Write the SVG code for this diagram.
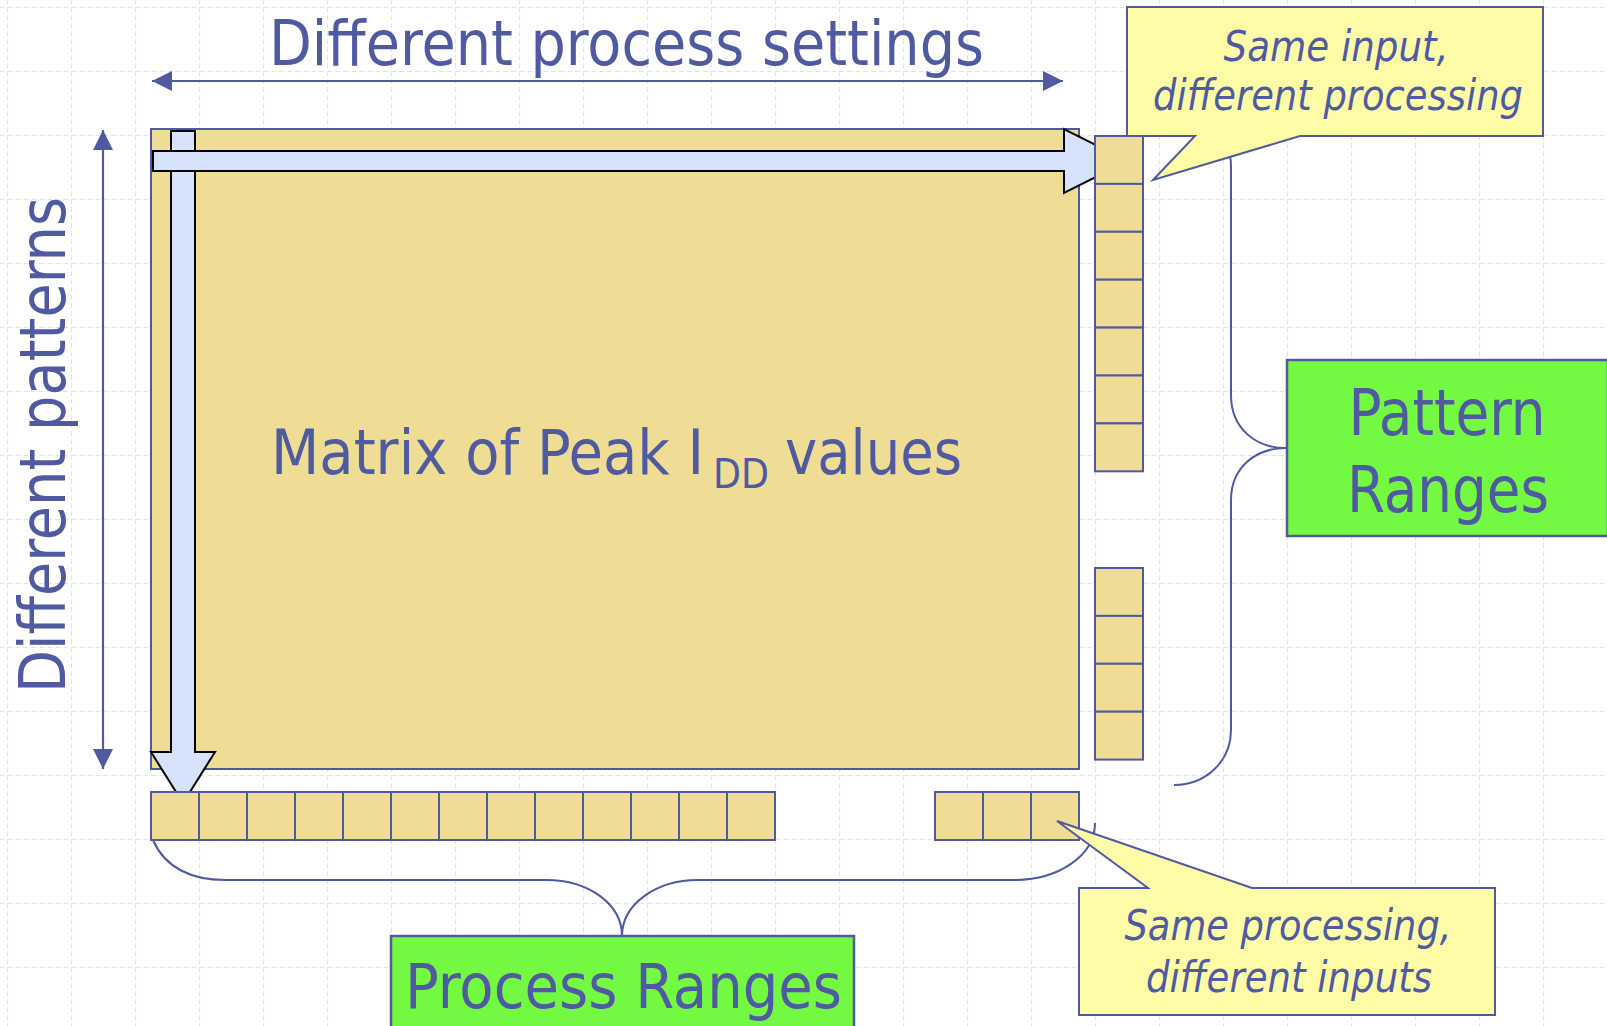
<svg xmlns="http://www.w3.org/2000/svg" width="1607" height="1026" viewBox="0 0 1607 1026">
<defs>
<style>
.txt{fill:#4F5AA0;font-family:"DejaVu Sans Condensed","DejaVu Sans","Liberation Sans",sans-serif;font-stretch:condensed}
.it{font-style:italic}
.cell{fill:#EFDD95;stroke:#4F5AA0;stroke-width:2}
.blk{fill:#D7E3FB;stroke:#000;stroke-width:2;stroke-linejoin:miter}
.brace{fill:none;stroke:#4F5AA0;stroke-width:2}
.callout{fill:#FFFCA8;stroke:#4F5AA0;stroke-width:2}
.green{fill:#74F942;stroke:#4F5AA0;stroke-width:2.5}
.thin{stroke:#4F5AA0;stroke-width:2.2;fill:none}
.grid{fill:none;stroke:#DAE3FA;stroke-width:1.2;stroke-dasharray:5 3}
</style>
<pattern id="gridpat" patternUnits="userSpaceOnUse" x="7" y="7" width="64" height="64">
<path class="grid" d="M0 0.5 H64 M0.5 0 V64"/>
</pattern>
<marker id="ah" viewBox="0 0 20 20" refX="20" refY="10" markerWidth="20" markerHeight="20" markerUnits="userSpaceOnUse" orient="auto-start-reverse">
<path d="M0,0 L20,10 L0,20 Z" fill="#4F5AA0"/>
</marker>
</defs>
<rect x="0" y="0" width="1607" height="1026" fill="#FFFFFF"/>
<rect x="0" y="0" width="1607" height="1026" fill="url(#gridpat)"/>

<g id="matrix">
<rect class="cell" x="151" y="129" width="928" height="640"/>
<text class="txt" font-size="63"><tspan x="271" y="474" textLength="433" lengthAdjust="spacingAndGlyphs">Matrix of Peak I</tspan><tspan x="713" y="488" font-size="40" textLength="56" lengthAdjust="spacingAndGlyphs">DD</tspan><tspan x="785" y="474" textLength="177" lengthAdjust="spacingAndGlyphs">values</tspan></text>
</g>

<g id="connectors">
<path id="arrow-down" class="blk" d="M171 131 H195 V752 H215 L183 803 L151 752 H171 Z"/>
<path id="arrow-right" class="blk" d="M153 151 H1064 V129 L1128 161 L1064 193 V171 H153 Z"/>
<line class="thin" x1="152" y1="81" x2="1063" y2="81" marker-start="url(#ah)" marker-end="url(#ah)"/>
<line class="thin" x1="103" y1="130" x2="103" y2="769" marker-start="url(#ah)" marker-end="url(#ah)"/>
<path id="brace-right" class="brace" d="M1174 111 C1205 111 1231 135 1231 166 L1231 395 C1231 428 1255 448 1286 448 C1255 448 1231 468 1231 500 L1231 730 C1231 762 1205 785 1174 785"/>
<path id="brace-bottom" class="brace" d="M153 840 C165 868 192 880 225 880 L546 880 C590 880 622 905 622 936 C622 905 655 880 698 880 L1014 880 C1058 880 1095 856 1095 823"/>
</g>

<g id="pattern-cells">
<rect class="cell" x="1095" y="136" width="48" height="47.9"/>
<rect class="cell" x="1095" y="183.9" width="48" height="47.9"/>
<rect class="cell" x="1095" y="231.8" width="48" height="47.9"/>
<rect class="cell" x="1095" y="279.7" width="48" height="47.9"/>
<rect class="cell" x="1095" y="327.6" width="48" height="47.9"/>
<rect class="cell" x="1095" y="375.5" width="48" height="47.9"/>
<rect class="cell" x="1095" y="423.4" width="48" height="47.9"/>
<rect class="cell" x="1095" y="568" width="48" height="47.9"/>
<rect class="cell" x="1095" y="615.9" width="48" height="47.9"/>
<rect class="cell" x="1095" y="663.8" width="48" height="47.9"/>
<rect class="cell" x="1095" y="711.7" width="48" height="47.9"/>
</g>

<g id="process-cells">
<rect class="cell" x="151" y="792" width="48" height="48"/>
<rect class="cell" x="199" y="792" width="48" height="48"/>
<rect class="cell" x="247" y="792" width="48" height="48"/>
<rect class="cell" x="295" y="792" width="48" height="48"/>
<rect class="cell" x="343" y="792" width="48" height="48"/>
<rect class="cell" x="391" y="792" width="48" height="48"/>
<rect class="cell" x="439" y="792" width="48" height="48"/>
<rect class="cell" x="487" y="792" width="48" height="48"/>
<rect class="cell" x="535" y="792" width="48" height="48"/>
<rect class="cell" x="583" y="792" width="48" height="48"/>
<rect class="cell" x="631" y="792" width="48" height="48"/>
<rect class="cell" x="679" y="792" width="48" height="48"/>
<rect class="cell" x="727" y="792" width="48" height="48"/>
<rect class="cell" x="935" y="792" width="48" height="48"/>
<rect class="cell" x="983" y="792" width="48" height="48"/>
<rect class="cell" x="1031" y="792" width="48" height="48"/>
</g>

<g id="title-top">
<text class="txt" x="269" y="65" font-size="62" textLength="715" lengthAdjust="spacingAndGlyphs">Different process settings</text>
</g>

<g id="title-left">
<text class="txt" font-size="64" transform="translate(65,693) rotate(-90)" textLength="496" lengthAdjust="spacingAndGlyphs">Different patterns</text>
</g>

<g id="callout-top">
<path class="callout" d="M1127 7 H1543 V136 H1300 L1153 180 L1195 136 H1127 Z"/>
<text class="txt it" font-size="43" text-anchor="middle"><tspan x="1336" y="61" textLength="225" lengthAdjust="spacingAndGlyphs">Same input,</tspan><tspan x="1338" y="110" textLength="370" lengthAdjust="spacingAndGlyphs">different processing</tspan></text>
</g>

<g id="callout-bottom">
<path class="callout" d="M1079 888 H1148 L1057 821 L1252 888 H1495 V1015 H1079 Z"/>
<text class="txt it" font-size="43" text-anchor="middle"><tspan x="1288" y="940" textLength="327" lengthAdjust="spacingAndGlyphs">Same processing,</tspan><tspan x="1289" y="992" textLength="286" lengthAdjust="spacingAndGlyphs">different inputs</tspan></text>
</g>

<g id="pattern-ranges">
<rect class="green" x="1287" y="360" width="321" height="176"/>
<text class="txt" font-size="64" text-anchor="middle"><tspan x="1447" y="435" textLength="197" lengthAdjust="spacingAndGlyphs">Pattern</tspan><tspan x="1448" y="512" textLength="202" lengthAdjust="spacingAndGlyphs">Ranges</tspan></text>
</g>

<g id="process-ranges">
<rect class="green" x="391" y="936" width="463" height="100"/>
<text class="txt" x="405" y="1008" font-size="62" textLength="437" lengthAdjust="spacingAndGlyphs">Process Ranges</text>
</g>
</svg>
